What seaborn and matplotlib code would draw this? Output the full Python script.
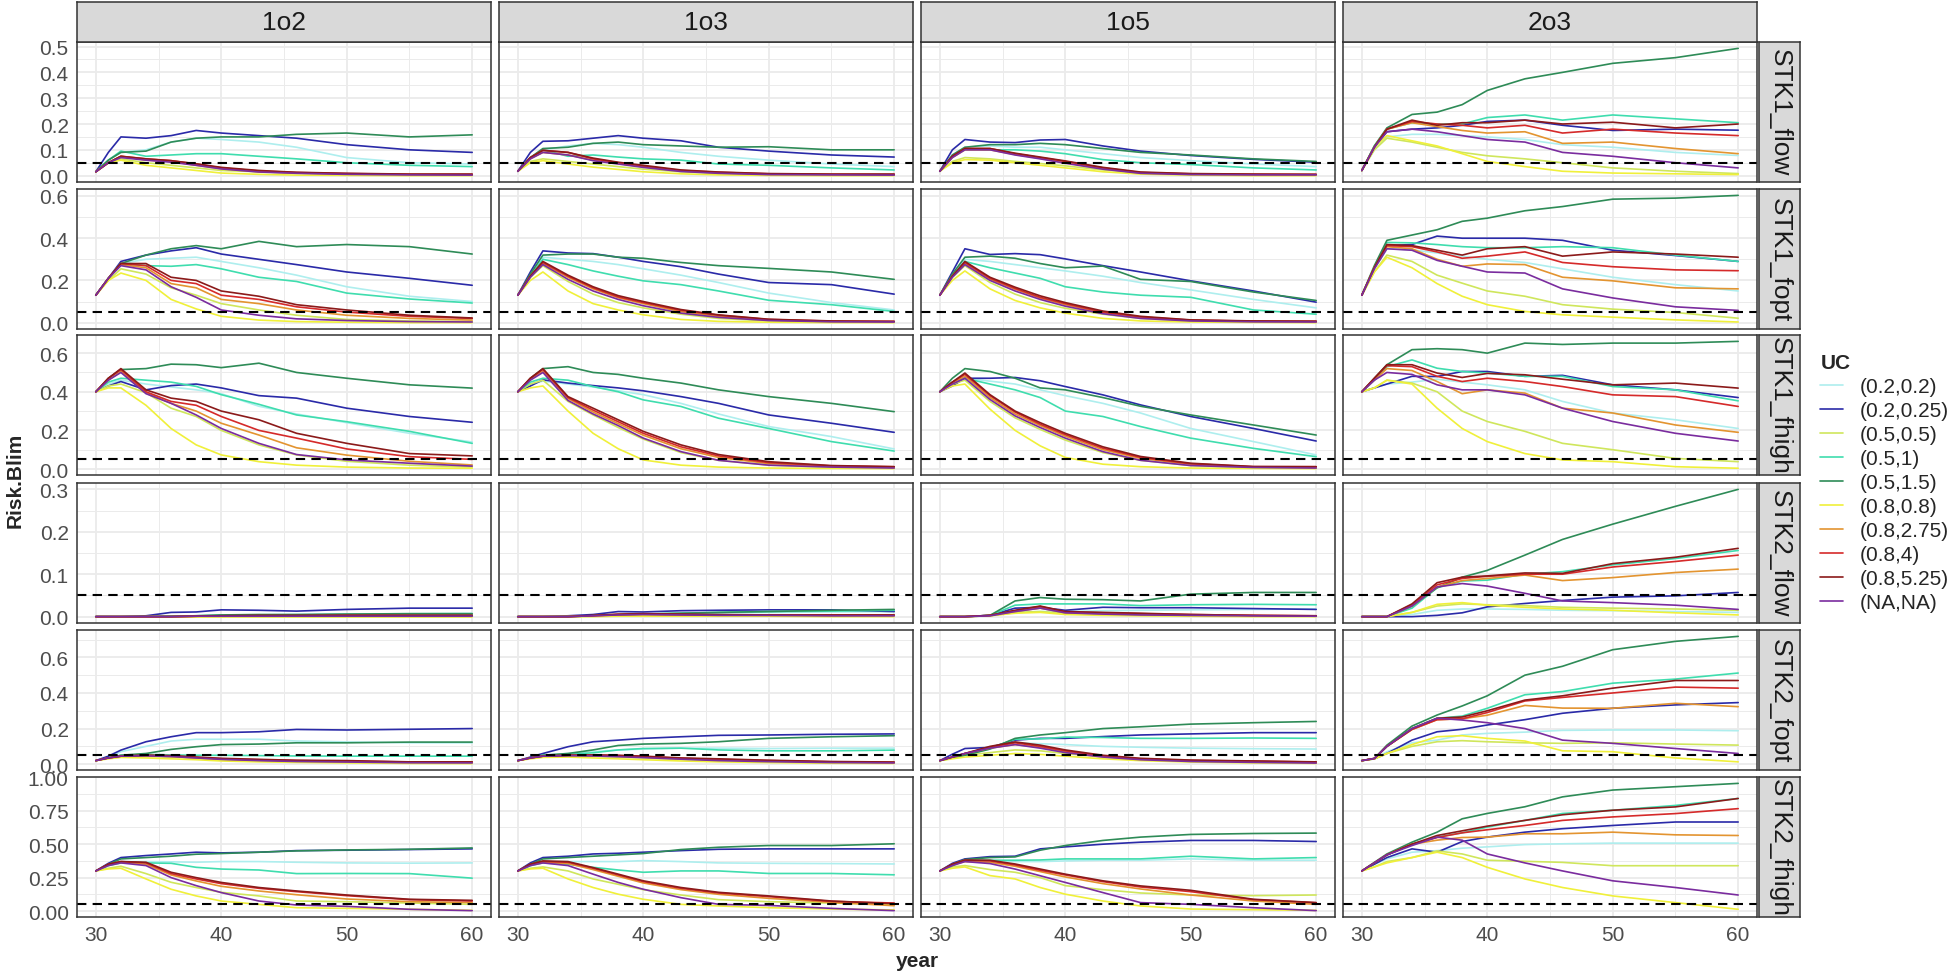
"""
Risk of falling below Blim, by management procedure and operating model
"""

import numpy as np
import pandas as pd
import matplotlib
matplotlib.use('Agg')
import matplotlib.pyplot as plt
from matplotlib.lines import Line2D
import seaborn as sns

# knot years
years = [30, 31, 32, 34, 36, 38, 40, 43, 46, 50, 55, 60]

uc_levels = ['(0.2,0.2)', '(0.2,0.25)', '(0.5,0.5)', '(0.5,1)', '(0.5,1.5)',
             '(0.8,0.8)', '(0.8,2.75)', '(0.8,4)', '(0.8,5.25)', '(NA,NA)']
uc_colors = ['#AEEEEE', '#2A2AA8', '#CFE65C', '#3FDDAE', '#2E8B57',
             '#F0F03A', '#E39430', '#D52A2A', '#8B1A1A', '#7A2C9E']
mp_levels = ['1o2', '1o3', '1o5', '2o3']
om_levels = ['STK1_flow', 'STK1_fopt', 'STK1_fhigh', 'STK2_flow', 'STK2_fopt', 'STK2_fhigh']
y_ticks = [[0.0, 0.1, 0.2, 0.3, 0.4, 0.5],
           [0.0, 0.2, 0.4, 0.6],
           [0.0, 0.2, 0.4, 0.6],
           [0.0, 0.1, 0.2, 0.3],
           [0.0, 0.2, 0.4, 0.6],
           [0.0, 0.25, 0.5, 0.75, 1.0]]
y_tick_fmt = ['%.1f', '%.1f', '%.1f', '%.1f', '%.1f', '%.2f']
x_ticks = [30, 40, 50, 60]
blim_risk = 0.05

# each block: one row per UC level, in uc_levels order
stk1_flow_1o2 = [
    [0.015, 0.06, 0.09, 0.10, 0.13, 0.145, 0.14, 0.13, 0.11, 0.07, 0.05, 0.045],
    [0.015, 0.09, 0.15, 0.145, 0.155, 0.175, 0.165, 0.155, 0.145, 0.12, 0.10, 0.09],
    [0.015, 0.05, 0.065, 0.05, 0.04, 0.03, 0.02, 0.015, 0.01, 0.005, 0.003, 0.002],
    [0.015, 0.06, 0.095, 0.075, 0.08, 0.085, 0.085, 0.075, 0.065, 0.05, 0.04, 0.035],
    [0.015, 0.06, 0.09, 0.095, 0.13, 0.145, 0.15, 0.15, 0.16, 0.165, 0.15, 0.158],
    [0.015, 0.05, 0.06, 0.04, 0.03, 0.02, 0.01, 0.005, 0.002, 0.001, 0.0, 0.0],
    [0.015, 0.05, 0.075, 0.06, 0.055, 0.04, 0.027, 0.015, 0.01, 0.006, 0.004, 0.003],
    [0.015, 0.05, 0.075, 0.065, 0.058, 0.045, 0.03, 0.018, 0.012, 0.008, 0.005, 0.005],
    [0.015, 0.05, 0.075, 0.065, 0.058, 0.046, 0.032, 0.02, 0.013, 0.009, 0.006, 0.006],
    [0.015, 0.05, 0.07, 0.06, 0.052, 0.04, 0.026, 0.014, 0.009, 0.005, 0.003, 0.002],
]
stk1_flow_1o3 = [
    [0.017, 0.07, 0.1, 0.115, 0.125, 0.12, 0.11, 0.09, 0.075, 0.06, 0.045, 0.035],
    [0.017, 0.09, 0.133, 0.135, 0.145, 0.155, 0.145, 0.135, 0.11, 0.095, 0.08, 0.072],
    [0.017, 0.055, 0.065, 0.055, 0.045, 0.035, 0.025, 0.015, 0.01, 0.005, 0.003, 0.002],
    [0.017, 0.07, 0.1, 0.075, 0.08, 0.072, 0.065, 0.06, 0.045, 0.04, 0.03, 0.022],
    [0.017, 0.07, 0.105, 0.11, 0.125, 0.13, 0.12, 0.115, 0.11, 0.112, 0.10, 0.10],
    [0.017, 0.05, 0.058, 0.045, 0.033, 0.024, 0.015, 0.007, 0.003, 0.001, 0.0, 0.0],
    [0.017, 0.065, 0.09, 0.08, 0.06, 0.047, 0.034, 0.018, 0.01, 0.005, 0.004, 0.003],
    [0.017, 0.07, 0.098, 0.09, 0.065, 0.05, 0.037, 0.02, 0.013, 0.007, 0.005, 0.005],
    [0.017, 0.07, 0.098, 0.09, 0.068, 0.052, 0.04, 0.022, 0.014, 0.008, 0.006, 0.006],
    [0.017, 0.065, 0.09, 0.08, 0.058, 0.045, 0.032, 0.016, 0.009, 0.004, 0.003, 0.002],
]
stk1_flow_1o5 = [
    [0.017, 0.08, 0.11, 0.115, 0.11, 0.11, 0.1, 0.085, 0.07, 0.058, 0.045, 0.035],
    [0.017, 0.1, 0.14, 0.13, 0.128, 0.138, 0.14, 0.115, 0.095, 0.078, 0.063, 0.052],
    [0.017, 0.055, 0.07, 0.065, 0.055, 0.047, 0.038, 0.022, 0.012, 0.006, 0.003, 0.002],
    [0.017, 0.075, 0.105, 0.1, 0.1, 0.095, 0.085, 0.062, 0.05, 0.043, 0.03, 0.022],
    [0.017, 0.08, 0.11, 0.12, 0.12, 0.125, 0.12, 0.105, 0.09, 0.08, 0.065, 0.055],
    [0.017, 0.05, 0.062, 0.06, 0.05, 0.04, 0.03, 0.015, 0.006, 0.002, 0.0, 0.0],
    [0.017, 0.07, 0.1, 0.1, 0.082, 0.067, 0.05, 0.027, 0.01, 0.005, 0.004, 0.003],
    [0.017, 0.075, 0.105, 0.105, 0.085, 0.07, 0.055, 0.03, 0.012, 0.007, 0.005, 0.005],
    [0.017, 0.075, 0.105, 0.105, 0.087, 0.072, 0.057, 0.032, 0.014, 0.008, 0.006, 0.005],
    [0.017, 0.07, 0.1, 0.1, 0.08, 0.065, 0.048, 0.025, 0.009, 0.004, 0.003, 0.003],
]
stk1_flow_2o3 = [
    [0.02, 0.1, 0.15, 0.16, 0.16, 0.155, 0.15, 0.14, 0.12, 0.11, 0.09, 0.078],
    [0.02, 0.11, 0.17, 0.18, 0.185, 0.195, 0.21, 0.215, 0.195, 0.175, 0.18, 0.176],
    [0.02, 0.1, 0.145, 0.13, 0.11, 0.09, 0.077, 0.065, 0.05, 0.03, 0.017, 0.008],
    [0.02, 0.115, 0.18, 0.205, 0.2, 0.2, 0.225, 0.235, 0.215, 0.235, 0.22, 0.205],
    [0.02, 0.115, 0.185, 0.237, 0.246, 0.275, 0.33, 0.375, 0.4, 0.435, 0.457, 0.493],
    [0.02, 0.11, 0.155, 0.135, 0.115, 0.085, 0.055, 0.035, 0.017, 0.01, 0.007, 0.004],
    [0.02, 0.11, 0.18, 0.205, 0.19, 0.175, 0.165, 0.17, 0.125, 0.13, 0.105, 0.085],
    [0.02, 0.11, 0.18, 0.21, 0.2, 0.195, 0.185, 0.195, 0.165, 0.18, 0.165, 0.155],
    [0.02, 0.11, 0.18, 0.215, 0.195, 0.205, 0.205, 0.215, 0.2, 0.207, 0.185, 0.2],
    [0.02, 0.11, 0.17, 0.18, 0.17, 0.155, 0.14, 0.13, 0.09, 0.075, 0.05, 0.03],
]

stk1_fopt_1o2 = [
    [0.13, 0.21, 0.28, 0.3, 0.305, 0.31, 0.29, 0.26, 0.225, 0.17, 0.125, 0.1],
    [0.13, 0.21, 0.29, 0.32, 0.34, 0.355, 0.325, 0.3, 0.275, 0.24, 0.21, 0.177],
    [0.13, 0.2, 0.255, 0.23, 0.165, 0.13, 0.09, 0.06, 0.035, 0.015, 0.008, 0.005],
    [0.13, 0.21, 0.28, 0.27, 0.267, 0.275, 0.255, 0.215, 0.195, 0.14, 0.112, 0.093],
    [0.13, 0.21, 0.28, 0.32, 0.35, 0.365, 0.35, 0.385, 0.36, 0.37, 0.36, 0.325],
    [0.13, 0.2, 0.235, 0.2, 0.11, 0.065, 0.03, 0.012, 0.005, 0.002, 0.0, 0.0],
    [0.13, 0.21, 0.275, 0.26, 0.185, 0.165, 0.11, 0.09, 0.06, 0.035, 0.02, 0.012],
    [0.13, 0.21, 0.28, 0.27, 0.2, 0.185, 0.13, 0.11, 0.075, 0.05, 0.03, 0.02],
    [0.13, 0.21, 0.28, 0.28, 0.215, 0.2, 0.15, 0.125, 0.085, 0.06, 0.035, 0.022],
    [0.13, 0.21, 0.27, 0.25, 0.17, 0.12, 0.06, 0.035, 0.018, 0.01, 0.005, 0.003],
]
stk1_fopt_1o3 = [
    [0.13, 0.22, 0.31, 0.3, 0.29, 0.275, 0.255, 0.225, 0.19, 0.14, 0.095, 0.06],
    [0.13, 0.24, 0.34, 0.33, 0.327, 0.31, 0.29, 0.265, 0.23, 0.19, 0.18, 0.135],
    [0.13, 0.215, 0.27, 0.195, 0.135, 0.095, 0.07, 0.04, 0.02, 0.008, 0.003, 0.002],
    [0.13, 0.22, 0.3, 0.275, 0.245, 0.22, 0.198, 0.18, 0.15, 0.106, 0.085, 0.053],
    [0.13, 0.23, 0.32, 0.325, 0.325, 0.31, 0.305, 0.285, 0.27, 0.257, 0.24, 0.205],
    [0.13, 0.2, 0.24, 0.15, 0.09, 0.06, 0.037, 0.015, 0.006, 0.002, 0.0, 0.0],
    [0.13, 0.22, 0.28, 0.215, 0.16, 0.118, 0.09, 0.052, 0.03, 0.012, 0.005, 0.004],
    [0.13, 0.22, 0.285, 0.22, 0.165, 0.122, 0.095, 0.058, 0.035, 0.015, 0.007, 0.006],
    [0.13, 0.22, 0.29, 0.225, 0.17, 0.128, 0.1, 0.062, 0.037, 0.016, 0.008, 0.006],
    [0.13, 0.215, 0.275, 0.205, 0.15, 0.11, 0.08, 0.045, 0.025, 0.01, 0.004, 0.003],
]
stk1_fopt_1o5 = [
    [0.13, 0.22, 0.3, 0.29, 0.275, 0.26, 0.245, 0.22, 0.19, 0.155, 0.11, 0.07],
    [0.13, 0.24, 0.35, 0.323, 0.327, 0.322, 0.302, 0.27, 0.24, 0.198, 0.15, 0.097],
    [0.13, 0.215, 0.27, 0.19, 0.135, 0.095, 0.068, 0.04, 0.02, 0.008, 0.003, 0.002],
    [0.13, 0.22, 0.29, 0.26, 0.235, 0.21, 0.17, 0.145, 0.13, 0.12, 0.06, 0.04],
    [0.13, 0.23, 0.31, 0.315, 0.305, 0.28, 0.26, 0.268, 0.205, 0.195, 0.145, 0.105],
    [0.13, 0.2, 0.245, 0.16, 0.105, 0.07, 0.045, 0.02, 0.008, 0.003, 0.001, 0.0],
    [0.13, 0.22, 0.28, 0.205, 0.158, 0.116, 0.085, 0.047, 0.024, 0.01, 0.005, 0.004],
    [0.13, 0.22, 0.285, 0.21, 0.162, 0.12, 0.09, 0.05, 0.027, 0.012, 0.007, 0.006],
    [0.13, 0.22, 0.29, 0.215, 0.168, 0.127, 0.095, 0.055, 0.03, 0.013, 0.008, 0.007],
    [0.13, 0.215, 0.275, 0.2, 0.15, 0.11, 0.078, 0.042, 0.02, 0.008, 0.004, 0.003],
]
stk1_fopt_2o3 = [
    [0.13, 0.255, 0.35, 0.345, 0.33, 0.315, 0.3, 0.285, 0.255, 0.215, 0.18, 0.15],
    [0.13, 0.26, 0.365, 0.37, 0.41, 0.4, 0.4, 0.4, 0.39, 0.343, 0.318, 0.29],
    [0.13, 0.24, 0.32, 0.29, 0.225, 0.187, 0.15, 0.125, 0.085, 0.064, 0.048, 0.021],
    [0.13, 0.26, 0.38, 0.378, 0.37, 0.36, 0.355, 0.355, 0.36, 0.355, 0.32, 0.29],
    [0.13, 0.27, 0.39, 0.415, 0.44, 0.48, 0.495, 0.53, 0.55, 0.585, 0.59, 0.603],
    [0.13, 0.24, 0.31, 0.26, 0.185, 0.125, 0.085, 0.053, 0.037, 0.026, 0.013, 0.003],
    [0.13, 0.26, 0.36, 0.35, 0.3, 0.267, 0.278, 0.275, 0.215, 0.198, 0.165, 0.16],
    [0.13, 0.26, 0.365, 0.36, 0.335, 0.305, 0.315, 0.335, 0.285, 0.265, 0.25, 0.246],
    [0.13, 0.26, 0.37, 0.365, 0.343, 0.32, 0.35, 0.36, 0.315, 0.335, 0.325, 0.31],
    [0.13, 0.255, 0.35, 0.343, 0.295, 0.267, 0.24, 0.235, 0.16, 0.117, 0.075, 0.058],
]

stk1_fhigh_1o2 = [
    [0.4, 0.44, 0.46, 0.44, 0.425, 0.41, 0.39, 0.325, 0.285, 0.24, 0.185, 0.14],
    [0.4, 0.43, 0.453, 0.41, 0.432, 0.44, 0.42, 0.38, 0.367, 0.315, 0.272, 0.242],
    [0.4, 0.43, 0.44, 0.395, 0.315, 0.272, 0.2, 0.125, 0.073, 0.04, 0.02, 0.01],
    [0.4, 0.45, 0.47, 0.46, 0.45, 0.428, 0.385, 0.335, 0.28, 0.245, 0.195, 0.133],
    [0.4, 0.47, 0.515, 0.52, 0.543, 0.54, 0.525, 0.548, 0.5, 0.47, 0.436, 0.419],
    [0.4, 0.42, 0.42, 0.33, 0.21, 0.125, 0.073, 0.038, 0.02, 0.01, 0.005, 0.004],
    [0.4, 0.46, 0.505, 0.395, 0.34, 0.3, 0.237, 0.176, 0.11, 0.072, 0.04, 0.021],
    [0.4, 0.47, 0.515, 0.4, 0.35, 0.33, 0.272, 0.2, 0.16, 0.104, 0.064, 0.05],
    [0.4, 0.47, 0.52, 0.41, 0.367, 0.35, 0.3, 0.255, 0.185, 0.133, 0.08, 0.068],
    [0.4, 0.46, 0.5, 0.39, 0.34, 0.28, 0.21, 0.133, 0.075, 0.047, 0.03, 0.015],
]
stk1_fhigh_1o3 = [
    [0.4, 0.44, 0.455, 0.44, 0.425, 0.405, 0.385, 0.34, 0.285, 0.22, 0.168, 0.104],
    [0.4, 0.43, 0.462, 0.445, 0.432, 0.42, 0.405, 0.375, 0.34, 0.28, 0.237, 0.19],
    [0.4, 0.44, 0.46, 0.35, 0.28, 0.215, 0.155, 0.085, 0.045, 0.02, 0.01, 0.005],
    [0.4, 0.45, 0.47, 0.46, 0.427, 0.4, 0.358, 0.324, 0.263, 0.21, 0.142, 0.093],
    [0.4, 0.47, 0.52, 0.53, 0.5, 0.49, 0.47, 0.445, 0.41, 0.375, 0.34, 0.297],
    [0.4, 0.42, 0.43, 0.3, 0.185, 0.105, 0.047, 0.02, 0.01, 0.005, 0.003, 0.002],
    [0.4, 0.465, 0.505, 0.365, 0.295, 0.235, 0.175, 0.105, 0.06, 0.028, 0.014, 0.01],
    [0.4, 0.47, 0.515, 0.37, 0.305, 0.245, 0.185, 0.115, 0.068, 0.033, 0.016, 0.012],
    [0.4, 0.47, 0.52, 0.375, 0.315, 0.255, 0.195, 0.125, 0.075, 0.038, 0.018, 0.012],
    [0.4, 0.46, 0.5, 0.355, 0.285, 0.225, 0.16, 0.09, 0.045, 0.02, 0.01, 0.005],
]
stk1_fhigh_1o5 = [
    [0.4, 0.45, 0.47, 0.455, 0.44, 0.41, 0.38, 0.34, 0.29, 0.21, 0.142, 0.073],
    [0.4, 0.43, 0.47, 0.47, 0.474, 0.457, 0.427, 0.384, 0.332, 0.272, 0.21, 0.145],
    [0.4, 0.44, 0.46, 0.35, 0.265, 0.205, 0.15, 0.085, 0.045, 0.018, 0.008, 0.005],
    [0.4, 0.45, 0.47, 0.44, 0.41, 0.37, 0.3, 0.272, 0.22, 0.16, 0.107, 0.064],
    [0.4, 0.47, 0.52, 0.505, 0.47, 0.42, 0.41, 0.37, 0.325, 0.28, 0.228, 0.176],
    [0.4, 0.43, 0.44, 0.31, 0.2, 0.12, 0.06, 0.025, 0.012, 0.005, 0.003, 0.002],
    [0.4, 0.445, 0.48, 0.37, 0.285, 0.225, 0.17, 0.1, 0.055, 0.024, 0.01, 0.008],
    [0.4, 0.45, 0.49, 0.38, 0.295, 0.232, 0.178, 0.108, 0.06, 0.027, 0.012, 0.012],
    [0.4, 0.45, 0.497, 0.385, 0.3, 0.24, 0.185, 0.115, 0.065, 0.03, 0.013, 0.012],
    [0.4, 0.44, 0.47, 0.36, 0.275, 0.215, 0.16, 0.09, 0.045, 0.018, 0.008, 0.005],
]
stk1_fhigh_2o3 = [
    [0.4, 0.42, 0.44, 0.45, 0.465, 0.45, 0.436, 0.41, 0.35, 0.29, 0.255, 0.21],
    [0.4, 0.42, 0.44, 0.48, 0.479, 0.505, 0.505, 0.48, 0.485, 0.436, 0.41, 0.37],
    [0.4, 0.42, 0.46, 0.445, 0.4, 0.3, 0.246, 0.195, 0.133, 0.1, 0.055, 0.038],
    [0.4, 0.46, 0.53, 0.565, 0.522, 0.505, 0.497, 0.48, 0.48, 0.427, 0.41, 0.353],
    [0.4, 0.47, 0.54, 0.618, 0.623, 0.618, 0.6, 0.652, 0.645, 0.652, 0.652, 0.661],
    [0.4, 0.42, 0.46, 0.44, 0.315, 0.21, 0.142, 0.08, 0.047, 0.038, 0.012, 0.004],
    [0.4, 0.46, 0.52, 0.51, 0.453, 0.39, 0.41, 0.393, 0.315, 0.29, 0.228, 0.19],
    [0.4, 0.47, 0.535, 0.53, 0.48, 0.453, 0.47, 0.453, 0.427, 0.384, 0.375, 0.324],
    [0.4, 0.47, 0.54, 0.54, 0.497, 0.474, 0.495, 0.488, 0.465, 0.436, 0.445, 0.419],
    [0.4, 0.46, 0.5, 0.49, 0.436, 0.41, 0.41, 0.384, 0.315, 0.246, 0.185, 0.145],
]

stk2_flow_1o2 = [
    [0, 0, 0, 0, 0.001, 0.002, 0.003, 0.004, 0.005, 0.006, 0.007, 0.008],
    [0, 0, 0, 0.002, 0.01, 0.011, 0.016, 0.015, 0.013, 0.017, 0.02, 0.02],
    [0, 0, 0, 0, 0, 0, 0.001, 0.001, 0.001, 0.001, 0.001, 0.001],
    [0, 0, 0, 0, 0.001, 0.002, 0.003, 0.004, 0.004, 0.005, 0.005, 0.005],
    [0, 0, 0, 0, 0.001, 0.002, 0.004, 0.005, 0.005, 0.006, 0.007, 0.007],
    [0, 0, 0, 0, 0, 0, 0, 0, 0, 0, 0, 0],
    [0, 0, 0, 0, 0, 0.001, 0.001, 0.002, 0.002, 0.002, 0.002, 0.002],
    [0, 0, 0, 0, 0, 0.001, 0.002, 0.002, 0.002, 0.003, 0.003, 0.003],
    [0, 0, 0, 0, 0, 0.001, 0.002, 0.003, 0.003, 0.003, 0.003, 0.003],
    [0, 0, 0, 0, 0, 0.001, 0.001, 0.001, 0.001, 0.001, 0.001, 0.001],
]
stk2_flow_1o3 = [
    [0, 0, 0, 0, 0.002, 0.004, 0.006, 0.008, 0.009, 0.01, 0.011, 0.012],
    [0, 0, 0, 0.002, 0.005, 0.012, 0.011, 0.014, 0.015, 0.016, 0.016, 0.012],
    [0, 0, 0, 0, 0.001, 0.002, 0.002, 0.002, 0.002, 0.002, 0.002, 0.002],
    [0, 0, 0, 0, 0.002, 0.004, 0.006, 0.008, 0.01, 0.012, 0.013, 0.015],
    [0, 0, 0, 0, 0.002, 0.004, 0.006, 0.008, 0.01, 0.012, 0.015, 0.017],
    [0, 0, 0, 0, 0, 0.001, 0.001, 0.001, 0.001, 0.001, 0, 0],
    [0, 0, 0, 0, 0.002, 0.004, 0.005, 0.004, 0.004, 0.003, 0.003, 0.003],
    [0, 0, 0, 0, 0.002, 0.005, 0.006, 0.005, 0.004, 0.004, 0.003, 0.003],
    [0, 0, 0, 0, 0.003, 0.006, 0.007, 0.006, 0.005, 0.004, 0.004, 0.004],
    [0, 0, 0, 0, 0.002, 0.004, 0.005, 0.004, 0.003, 0.003, 0.002, 0.002],
]
stk2_flow_1o5 = [
    [0, 0, 0, 0.002, 0.01, 0.012, 0.012, 0.014, 0.015, 0.016, 0.017, 0.018],
    [0, 0, 0, 0.003, 0.02, 0.022, 0.015, 0.022, 0.021, 0.021, 0.019, 0.017],
    [0, 0, 0, 0.002, 0.01, 0.012, 0.008, 0.006, 0.004, 0.003, 0.002, 0.001],
    [0, 0, 0, 0.003, 0.027, 0.03, 0.03, 0.03, 0.026, 0.028, 0.029, 0.028],
    [0, 0, 0, 0.003, 0.037, 0.045, 0.041, 0.04, 0.037, 0.053, 0.057, 0.057],
    [0, 0, 0, 0.002, 0.008, 0.01, 0.005, 0.003, 0.002, 0.001, 0.0, 0.0],
    [0, 0, 0, 0.002, 0.012, 0.02, 0.009, 0.007, 0.005, 0.003, 0.002, 0.001],
    [0, 0, 0, 0.003, 0.014, 0.024, 0.011, 0.009, 0.007, 0.005, 0.003, 0.002],
    [0, 0, 0, 0.003, 0.015, 0.025, 0.012, 0.01, 0.008, 0.005, 0.003, 0.002],
    [0, 0, 0, 0.002, 0.012, 0.02, 0.009, 0.006, 0.004, 0.003, 0.002, 0.001],
]
stk2_flow_2o3 = [
    [0, 0, 0, 0.005, 0.015, 0.018, 0.018, 0.017, 0.015, 0.014, 0.012, 0.01],
    [0, 0, 0, 0.0, 0.003, 0.009, 0.023, 0.031, 0.038, 0.046, 0.049, 0.057],
    [0, 0, 0, 0.01, 0.025, 0.03, 0.028, 0.026, 0.022, 0.02, 0.018, 0.015],
    [0, 0, 0, 0.02, 0.068, 0.084, 0.086, 0.1, 0.106, 0.122, 0.137, 0.156],
    [0, 0, 0, 0.025, 0.068, 0.093, 0.109, 0.145, 0.182, 0.218, 0.26, 0.3],
    [0, 0, 0, 0.01, 0.029, 0.033, 0.027, 0.022, 0.018, 0.015, 0.009, 0.004],
    [0, 0, 0, 0.025, 0.07, 0.085, 0.09, 0.098, 0.085, 0.092, 0.104, 0.112],
    [0, 0, 0, 0.028, 0.075, 0.09, 0.095, 0.1, 0.1, 0.117, 0.13, 0.145],
    [0, 0, 0, 0.03, 0.08, 0.093, 0.096, 0.103, 0.102, 0.125, 0.14, 0.161],
    [0, 0, 0, 0.025, 0.07, 0.078, 0.072, 0.055, 0.037, 0.033, 0.027, 0.017],
]

stk2_fopt_1o2 = [
    [0.02, 0.04, 0.07, 0.1, 0.13, 0.14, 0.14, 0.14, 0.13, 0.125, 0.12, 0.12],
    [0.02, 0.045, 0.079, 0.126, 0.154, 0.177, 0.177, 0.182, 0.195, 0.192, 0.196, 0.2],
    [0.02, 0.033, 0.042, 0.043, 0.04, 0.033, 0.026, 0.02, 0.015, 0.012, 0.009, 0.008],
    [0.02, 0.035, 0.05, 0.055, 0.052, 0.05, 0.05, 0.048, 0.046, 0.045, 0.045, 0.045],
    [0.02, 0.035, 0.05, 0.06, 0.083, 0.098, 0.11, 0.113, 0.12, 0.12, 0.124, 0.124],
    [0.02, 0.03, 0.038, 0.035, 0.03, 0.025, 0.018, 0.013, 0.01, 0.007, 0.004, 0.003],
    [0.02, 0.035, 0.045, 0.047, 0.043, 0.035, 0.028, 0.022, 0.017, 0.014, 0.01, 0.01],
    [0.02, 0.035, 0.045, 0.05, 0.047, 0.038, 0.03, 0.025, 0.02, 0.017, 0.012, 0.012],
    [0.02, 0.035, 0.045, 0.05, 0.048, 0.04, 0.033, 0.027, 0.022, 0.02, 0.013, 0.013],
    [0.02, 0.035, 0.045, 0.047, 0.043, 0.035, 0.027, 0.02, 0.015, 0.012, 0.008, 0.007],
]
stk2_fopt_1o3 = [
    [0.02, 0.035, 0.05, 0.06, 0.07, 0.08, 0.085, 0.09, 0.09, 0.088, 0.09, 0.09],
    [0.02, 0.04, 0.06, 0.098, 0.126, 0.135, 0.145, 0.154, 0.162, 0.164, 0.168, 0.17],
    [0.02, 0.033, 0.042, 0.045, 0.044, 0.04, 0.035, 0.027, 0.02, 0.015, 0.01, 0.008],
    [0.02, 0.035, 0.05, 0.055, 0.064, 0.08, 0.088, 0.09, 0.08, 0.075, 0.075, 0.079],
    [0.02, 0.035, 0.05, 0.06, 0.08, 0.105, 0.113, 0.117, 0.126, 0.145, 0.154, 0.16],
    [0.02, 0.03, 0.038, 0.04, 0.035, 0.03, 0.025, 0.018, 0.013, 0.009, 0.005, 0.004],
    [0.02, 0.035, 0.045, 0.048, 0.048, 0.045, 0.04, 0.03, 0.024, 0.018, 0.012, 0.009],
    [0.02, 0.035, 0.045, 0.05, 0.05, 0.048, 0.043, 0.033, 0.027, 0.02, 0.013, 0.01],
    [0.02, 0.035, 0.045, 0.05, 0.052, 0.05, 0.045, 0.035, 0.03, 0.022, 0.015, 0.012],
    [0.02, 0.035, 0.045, 0.048, 0.046, 0.042, 0.037, 0.028, 0.02, 0.014, 0.009, 0.007],
]
stk2_fopt_1o5 = [
    [0.02, 0.035, 0.05, 0.085, 0.12, 0.115, 0.11, 0.1, 0.095, 0.09, 0.087, 0.085],
    [0.02, 0.056, 0.088, 0.094, 0.135, 0.145, 0.145, 0.155, 0.164, 0.17, 0.177, 0.177],
    [0.02, 0.035, 0.05, 0.065, 0.08, 0.075, 0.06, 0.04, 0.027, 0.018, 0.012, 0.008],
    [0.02, 0.035, 0.05, 0.09, 0.14, 0.142, 0.152, 0.15, 0.145, 0.145, 0.147, 0.145],
    [0.02, 0.035, 0.05, 0.085, 0.145, 0.164, 0.177, 0.2, 0.21, 0.225, 0.233, 0.24],
    [0.02, 0.03, 0.04, 0.05, 0.06, 0.055, 0.045, 0.03, 0.02, 0.012, 0.007, 0.004],
    [0.02, 0.04, 0.06, 0.09, 0.11, 0.095, 0.07, 0.043, 0.027, 0.018, 0.014, 0.01],
    [0.02, 0.04, 0.06, 0.095, 0.12, 0.1, 0.075, 0.046, 0.03, 0.021, 0.017, 0.012],
    [0.02, 0.04, 0.06, 0.1, 0.125, 0.107, 0.08, 0.05, 0.033, 0.023, 0.018, 0.013],
    [0.02, 0.04, 0.06, 0.09, 0.11, 0.09, 0.065, 0.04, 0.025, 0.015, 0.01, 0.006],
]
stk2_fopt_2o3 = [
    [0.02, 0.03, 0.07, 0.12, 0.135, 0.164, 0.173, 0.18, 0.19, 0.192, 0.192, 0.188],
    [0.02, 0.03, 0.06, 0.135, 0.182, 0.196, 0.22, 0.25, 0.286, 0.314, 0.333, 0.346],
    [0.02, 0.03, 0.06, 0.1, 0.126, 0.132, 0.126, 0.12, 0.117, 0.12, 0.113, 0.107],
    [0.02, 0.032, 0.1, 0.2, 0.258, 0.27, 0.314, 0.39, 0.408, 0.455, 0.478, 0.512],
    [0.02, 0.032, 0.107, 0.214, 0.276, 0.327, 0.384, 0.5, 0.55, 0.643, 0.69, 0.718],
    [0.02, 0.03, 0.06, 0.11, 0.154, 0.16, 0.145, 0.13, 0.075, 0.07, 0.035, 0.013],
    [0.02, 0.032, 0.1, 0.195, 0.25, 0.255, 0.275, 0.33, 0.315, 0.314, 0.342, 0.323],
    [0.02, 0.032, 0.1, 0.195, 0.25, 0.255, 0.29, 0.355, 0.375, 0.4, 0.433, 0.427],
    [0.02, 0.032, 0.1, 0.2, 0.258, 0.265, 0.3, 0.36, 0.384, 0.427, 0.47, 0.47],
    [0.02, 0.032, 0.1, 0.2, 0.258, 0.248, 0.233, 0.2, 0.135, 0.117, 0.088, 0.06],
]

stk2_fhigh_1o2 = [
    [0.3, 0.34, 0.37, 0.37, 0.368, 0.365, 0.37, 0.37, 0.365, 0.36, 0.358, 0.36],
    [0.3, 0.357, 0.4, 0.415, 0.427, 0.44, 0.435, 0.44, 0.452, 0.455, 0.46, 0.465],
    [0.3, 0.32, 0.335, 0.28, 0.215, 0.176, 0.14, 0.113, 0.075, 0.07, 0.06, 0.05],
    [0.3, 0.34, 0.36, 0.36, 0.357, 0.327, 0.314, 0.307, 0.28, 0.281, 0.28, 0.246],
    [0.3, 0.35, 0.39, 0.4, 0.41, 0.425, 0.43, 0.44, 0.45, 0.457, 0.462, 0.472],
    [0.3, 0.315, 0.32, 0.24, 0.163, 0.113, 0.075, 0.05, 0.025, 0.02, 0.013, 0.005],
    [0.3, 0.345, 0.365, 0.35, 0.27, 0.225, 0.185, 0.15, 0.122, 0.09, 0.07, 0.063],
    [0.3, 0.35, 0.37, 0.36, 0.28, 0.24, 0.205, 0.17, 0.145, 0.115, 0.085, 0.075],
    [0.3, 0.35, 0.37, 0.365, 0.29, 0.25, 0.214, 0.176, 0.15, 0.12, 0.088, 0.08],
    [0.3, 0.34, 0.36, 0.34, 0.25, 0.19, 0.138, 0.075, 0.045, 0.035, 0.013, 0.003],
]
stk2_fhigh_1o3 = [
    [0.3, 0.34, 0.37, 0.37, 0.37, 0.37, 0.377, 0.37, 0.36, 0.357, 0.355, 0.352],
    [0.3, 0.36, 0.4, 0.41, 0.427, 0.432, 0.44, 0.452, 0.462, 0.465, 0.465, 0.465],
    [0.3, 0.32, 0.33, 0.3, 0.24, 0.2, 0.16, 0.12, 0.085, 0.07, 0.06, 0.05],
    [0.3, 0.34, 0.36, 0.35, 0.327, 0.307, 0.29, 0.3, 0.3, 0.281, 0.281, 0.271],
    [0.3, 0.35, 0.39, 0.4, 0.41, 0.42, 0.43, 0.46, 0.477, 0.49, 0.49, 0.503],
    [0.3, 0.315, 0.32, 0.24, 0.176, 0.126, 0.088, 0.05, 0.038, 0.025, 0.015, 0.008],
    [0.3, 0.345, 0.365, 0.355, 0.31, 0.26, 0.21, 0.16, 0.125, 0.095, 0.065, 0.04],
    [0.3, 0.35, 0.37, 0.365, 0.32, 0.27, 0.22, 0.17, 0.135, 0.108, 0.072, 0.06],
    [0.3, 0.35, 0.375, 0.37, 0.325, 0.276, 0.226, 0.176, 0.14, 0.113, 0.075, 0.055],
    [0.3, 0.34, 0.36, 0.34, 0.276, 0.214, 0.163, 0.1, 0.05, 0.042, 0.02, 0.003],
]
stk2_fhigh_1o5 = [
    [0.3, 0.34, 0.38, 0.375, 0.37, 0.37, 0.375, 0.38, 0.38, 0.39, 0.38, 0.38],
    [0.3, 0.357, 0.39, 0.407, 0.41, 0.465, 0.48, 0.5, 0.515, 0.528, 0.528, 0.52],
    [0.3, 0.33, 0.34, 0.31, 0.29, 0.25, 0.19, 0.16, 0.135, 0.12, 0.115, 0.12],
    [0.3, 0.34, 0.38, 0.38, 0.38, 0.382, 0.39, 0.39, 0.39, 0.41, 0.39, 0.4],
    [0.3, 0.35, 0.385, 0.4, 0.405, 0.455, 0.49, 0.528, 0.553, 0.573, 0.58, 0.583],
    [0.3, 0.32, 0.33, 0.265, 0.24, 0.176, 0.126, 0.075, 0.038, 0.015, 0.01, 0.005],
    [0.3, 0.345, 0.37, 0.365, 0.335, 0.295, 0.255, 0.205, 0.165, 0.12, 0.075, 0.05],
    [0.3, 0.35, 0.38, 0.375, 0.345, 0.305, 0.27, 0.22, 0.18, 0.145, 0.085, 0.062],
    [0.3, 0.35, 0.38, 0.38, 0.352, 0.314, 0.276, 0.226, 0.188, 0.155, 0.088, 0.063],
    [0.3, 0.34, 0.37, 0.355, 0.314, 0.264, 0.214, 0.138, 0.063, 0.05, 0.025, 0.003],
]
stk2_fhigh_2o3 = [
    [0.3, 0.35, 0.39, 0.44, 0.452, 0.47, 0.48, 0.497, 0.503, 0.508, 0.508, 0.508],
    [0.3, 0.35, 0.4, 0.465, 0.44, 0.52, 0.553, 0.59, 0.616, 0.64, 0.666, 0.666],
    [0.3, 0.33, 0.37, 0.4, 0.45, 0.427, 0.38, 0.372, 0.364, 0.339, 0.339, 0.339],
    [0.3, 0.36, 0.42, 0.5, 0.553, 0.585, 0.628, 0.678, 0.73, 0.754, 0.79, 0.842],
    [0.3, 0.364, 0.427, 0.515, 0.59, 0.69, 0.73, 0.78, 0.854, 0.905, 0.93, 0.955],
    [0.3, 0.33, 0.36, 0.4, 0.44, 0.4, 0.327, 0.24, 0.176, 0.113, 0.063, 0.013],
    [0.3, 0.36, 0.42, 0.5, 0.53, 0.55, 0.553, 0.578, 0.578, 0.59, 0.57, 0.565],
    [0.3, 0.36, 0.42, 0.5, 0.55, 0.585, 0.608, 0.64, 0.678, 0.704, 0.729, 0.766],
    [0.3, 0.36, 0.42, 0.5, 0.565, 0.6, 0.635, 0.678, 0.72, 0.754, 0.779, 0.842],
    [0.3, 0.36, 0.42, 0.49, 0.553, 0.53, 0.427, 0.36, 0.3, 0.226, 0.176, 0.12],
]

panel_blocks = [
    [stk1_flow_1o2, stk1_flow_1o3, stk1_flow_1o5, stk1_flow_2o3],
    [stk1_fopt_1o2, stk1_fopt_1o3, stk1_fopt_1o5, stk1_fopt_2o3],
    [stk1_fhigh_1o2, stk1_fhigh_1o3, stk1_fhigh_1o5, stk1_fhigh_2o3],
    [stk2_flow_1o2, stk2_flow_1o3, stk2_flow_1o5, stk2_flow_2o3],
    [stk2_fopt_1o2, stk2_fopt_1o3, stk2_fopt_1o5, stk2_fopt_2o3],
    [stk2_fhigh_1o2, stk2_fhigh_1o3, stk2_fhigh_1o5, stk2_fhigh_2o3],
]

# long table, one row per OM x MP x UC x year
records = []
for om, row_blocks in zip(om_levels, panel_blocks):
    for mp, block in zip(mp_levels, row_blocks):
        for uc, vals in zip(uc_levels, block):
            for yr, v in zip(years, vals):
                records.append((om, mp, uc, yr, v))
df = pd.DataFrame(records, columns=['OM', 'MP', 'UC', 'year', 'Risk.Blim'])

sns.set_style('white')
plt.rcParams['font.family'] = ['Liberation Sans', 'DejaVu Sans']

W, H = 1955, 978
fig = plt.figure(figsize=(W / 100, H / 100), dpi=100)

col_left = [77, 499, 921, 1343]
row_top = [43, 190, 336, 484, 631, 778]
pw, ph = 414, 140
strip_h, strip_w = 40, 41
border = '#333333'
grid_col = '#EBEBEB'
line_w = 1.2


def px_box(x, y, w, h):
    return [x / W, 1 - (y + h) / H, w / W, h / H]


def style_box(ax):
    for sp in ax.spines.values():
        sp.set_visible(True)
        sp.set_color(border)
        sp.set_linewidth(1.1)


for i, om in enumerate(om_levels):
    sub_om = df[df['OM'] == om]
    lo = min(sub_om['Risk.Blim'].min(), blim_risk)
    hi = max(sub_om['Risk.Blim'].max(), blim_risk)
    pad = 0.05 * (hi - lo)
    ticks = y_ticks[i]
    step = ticks[1] - ticks[0]
    minor = [t + step / 2 for t in ticks if t + step / 2 < hi + pad]

    for j, mp in enumerate(mp_levels):
        ax = fig.add_axes(px_box(col_left[j], row_top[i], pw, ph))
        sub = sub_om[sub_om['MP'] == mp]
        ax.set_axisbelow(True)
        sns.lineplot(data=sub, x='year', y='Risk.Blim', hue='UC',
                     hue_order=uc_levels, palette=uc_colors,
                     estimator=None, linewidth=line_w, legend=False, ax=ax)
        ax.axhline(blim_risk, color='black', linestyle=(0, (4.5, 3)), linewidth=1.5)

        ax.set_xlim(28.5, 61.5)
        ax.set_ylim(lo - pad, hi + pad)
        ax.set_xticks(x_ticks)
        ax.set_xticks([35, 45, 55], minor=True)
        ax.set_yticks(ticks)
        ax.set_yticks(minor, minor=True)
        ax.grid(True, which='major', color=grid_col, linewidth=1.3)
        ax.grid(True, which='minor', color=grid_col, linewidth=0.7)
        ax.tick_params(axis='both', which='major', length=4, width=1.0,
                       color=border, labelsize=15, labelcolor='#4D4D4D', pad=2)
        ax.tick_params(axis='both', which='minor', length=0)
        ax.set_xlabel('')
        ax.set_ylabel('')
        if j == 0:
            ax.set_yticklabels([y_tick_fmt[i] % t for t in ticks])
        else:
            ax.tick_params(axis='y', which='major', length=0, labelleft=False)
        if i == len(om_levels) - 1:
            ax.set_xticklabels([str(t) for t in x_ticks])
        else:
            ax.tick_params(axis='x', which='major', length=0, labelbottom=False)
        style_box(ax)

        # column strip on top
        if i == 0:
            sx = fig.add_axes(px_box(col_left[j], 3, pw, strip_h))
            sx.set_facecolor('#D9D9D9')
            sx.set_xticks([])
            sx.set_yticks([])
            style_box(sx)
            sx.text(0.5, 0.5, mp, ha='center', va='center', fontsize=19,
                    color='#1A1A1A', transform=sx.transAxes)

    # row strip on the right
    sy = fig.add_axes(px_box(1759, row_top[i], strip_w, ph))
    sy.set_facecolor('#D9D9D9')
    sy.set_xticks([])
    sy.set_yticks([])
    style_box(sy)
    t = sy.text(0.5, 0.5, om, ha='center', va='center', rotation=270,
                fontsize=19, color='#1A1A1A', transform=sy.transAxes,
                rotation_mode='anchor')
    t.set_clip_on(True)

fig.text(15 / W, 1 - 480 / H, 'Risk.Blim', rotation=90, ha='center', va='center',
         fontsize=15, fontweight='bold')
fig.text(917 / W, 1 - 962 / H, 'year', ha='center', va='center',
         fontsize=15, fontweight='bold')

handles = [Line2D([], [], color=c, linewidth=line_w) for c in uc_colors]
leg = fig.legend(handles, uc_levels, title='UC', loc='upper left',
                 bbox_to_anchor=(1812 / W, 1 - 346 / H), frameon=False,
                 fontsize=15, handlelength=1.1, handletextpad=0.8,
                 labelspacing=0.24, borderaxespad=0,
                 title_fontproperties={'weight': 'bold', 'size': 15})
leg._legend_box.align = 'left'

fig.savefig('out.png', dpi=100)
